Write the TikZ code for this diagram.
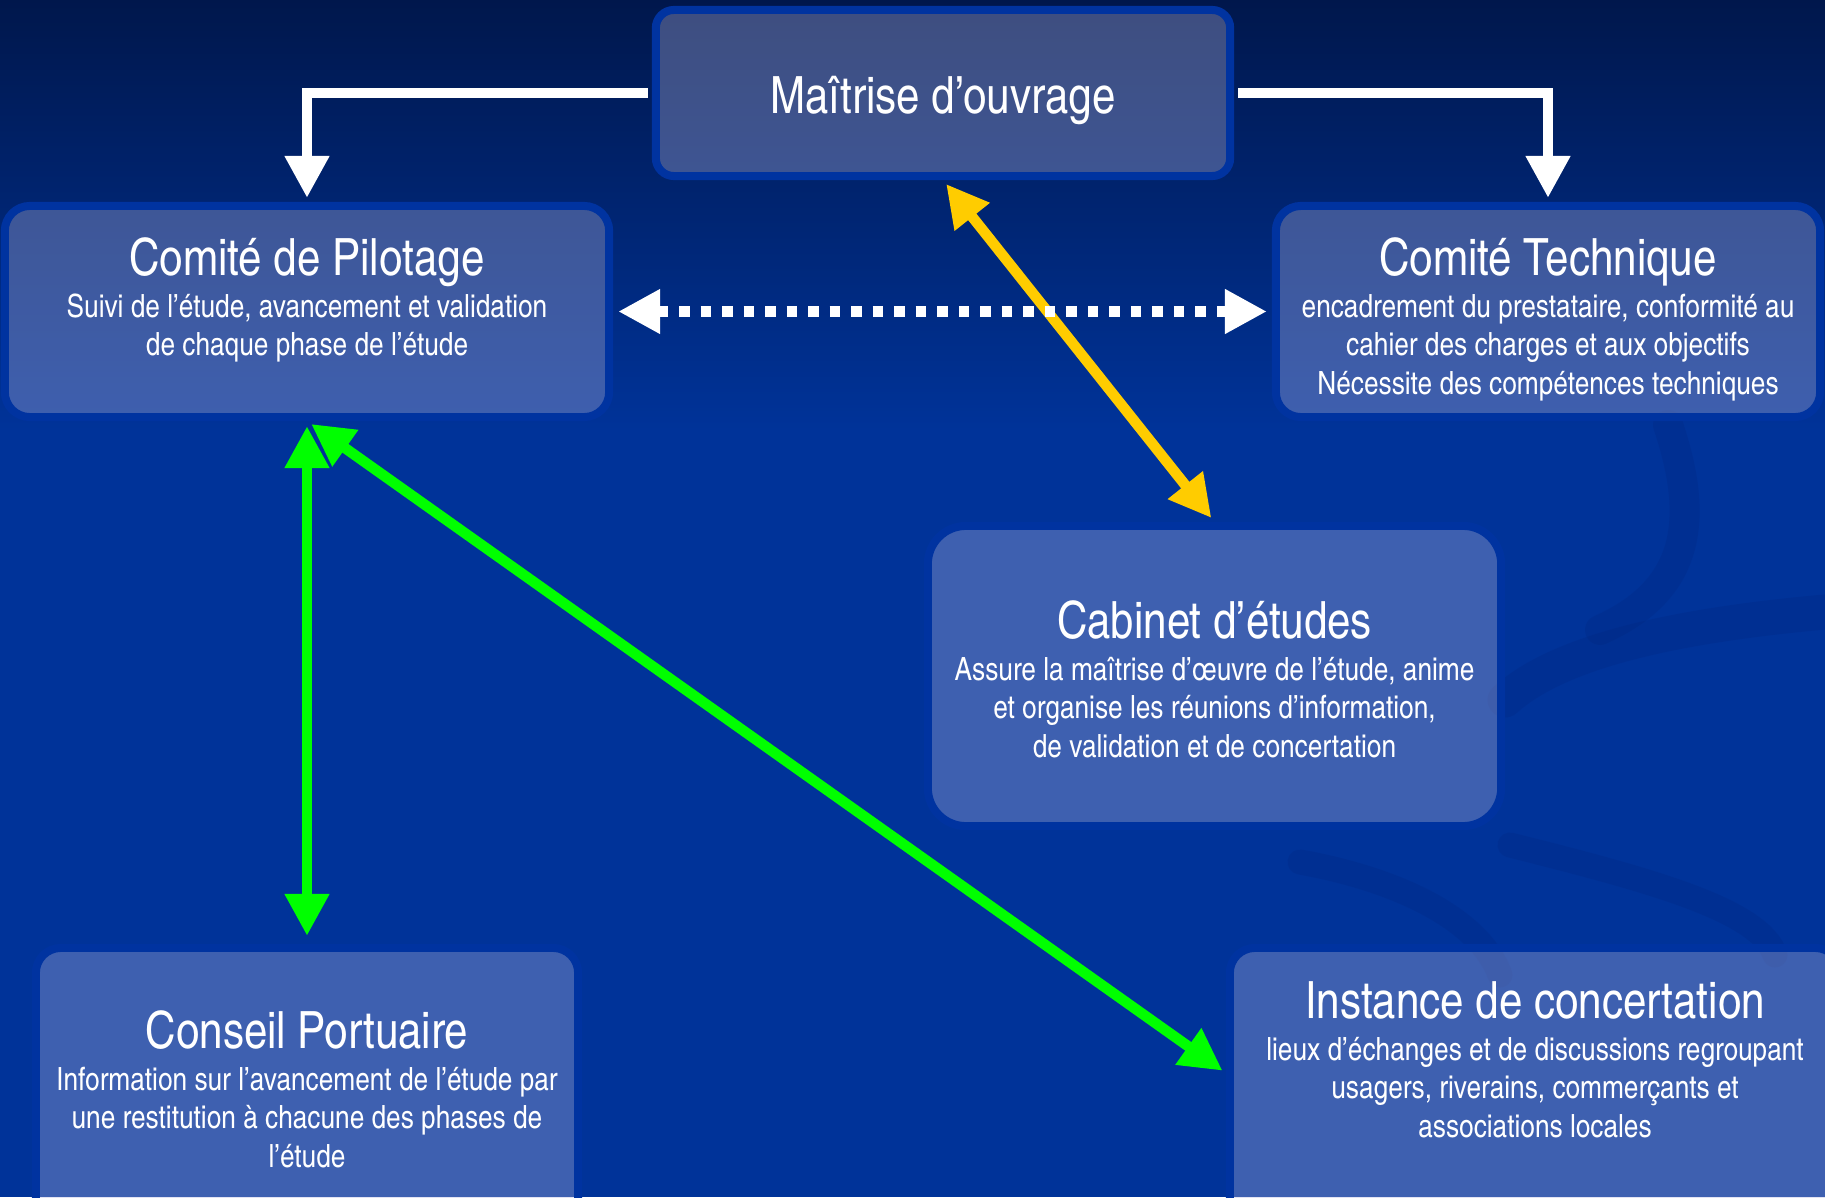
\documentclass[tikz,border=0pt]{standalone}
\usepackage{fontspec}
\setmainfont{texgyreheroscn}[Extension=.otf,UprightFont=*-regular,BoldFont=*-bold,ItalicFont=*-italic,BoldItalicFont=*-bolditalic]
\usetikzlibrary{arrows.meta}
\usetikzlibrary{positioning}

\definecolor{bgtop}{RGB}{0,23,76}
\definecolor{bgmid}{RGB}{0,51,153}
\definecolor{boxline}{RGB}{0,51,160}
\definecolor{boxfill}{RGB}{172,176,218}
\definecolor{flechejaune}{RGB}{255,204,0}
\definecolor{flecheverte}{RGB}{0,255,0}
\definecolor{volute}{RGB}{0,30,110}

\newcommand{\grandtitre}{\fontsize{14.6}{17.5}\selectfont}

\tikzset{
  box/.style={rectangle, rounded corners=0.25cm, draw=boxline, line width=0.08cm, fill=boxfill, fill opacity=0.36, text opacity=1, inner sep=0pt},
  desc/.style={align=center, text=white, inner sep=0pt, font=\fontsize{9.1}{10.93}\selectfont},
  link/.style={line width=0.105cm, -{Triangle[length=0.42cm,width=0.42cm]}, shorten >=0.05cm, shorten <=0.05cm},
  both/.style={link, {Triangle[length=0.42cm,width=0.42cm]}-{Triangle[length=0.42cm,width=0.42cm]}},
  swirl/.style={draw=volute, opacity=0.15, line cap=round}
}

\begin{document}
\begin{tikzpicture}[x=0.01cm,y=-0.01cm]
\useasboundingbox (0,0) rectangle (1825,1197);
\shade[top color=bgtop, bottom color=bgmid] (0,0) rectangle (1825,430);
\fill[bgmid] (0,430) rectangle (1825,1197);

% volutes du fond
\draw[swirl, line width=0.3cm] (1668,425) .. controls (1700,520) and (1690,590) .. (1600,630);
\draw[swirl, line width=0.35cm] (1505,700) .. controls (1560,650) and (1680,625) .. (1825,612);
\draw[swirl, line width=0.25cm] (1300,862) .. controls (1400,880) and (1480,920) .. (1500,975);
\draw[swirl, line width=0.25cm] (1510,845) .. controls (1650,880) and (1760,910) .. (1775,955);

% boites
\node[box, rounded corners=0.18cm, minimum width=5.74cm, minimum height=1.66cm, text=white, font=\grandtitre, text height=11.7pt, text depth=0pt] (mo) at (943,93) {Maîtrise d’ouvrage};
\node[box, minimum width=6.04cm, minimum height=2.11cm] (pil) at (307,311.5) {};
\node[box, minimum width=5.44cm, minimum height=2.11cm] (tech) at (1548,311.5) {};
\node[box, rounded corners=0.38cm, minimum width=5.73cm, minimum height=3cm] (cab) at (1214.5,676) {};
\node[box, minimum width=5.42cm, minimum height=2.82cm] (cons) at (307,1089) {};
\node[box, minimum width=6.1cm, minimum height=2.82cm] (inst) at (1535,1089) {};

% textes
\node[desc, anchor=north, below=0.35cm of pil.north] (pilT) {{\grandtitre Comité de Pilotage}\\[1pt]
Suivi de l’étude, avancement et validation\\
de chaque phase de l’étude};
\node[desc, anchor=north, below=0.35cm of tech.north] (techT) {{\grandtitre Comité Technique}\\[1pt]
encadrement du prestataire, conformité au\\
cahier des charges et aux objectifs\\
Nécessite des compétences techniques};
\node[desc, anchor=north, below=0.78cm of cab.north] (cabT) {{\grandtitre Cabinet d’études}\\[1pt]
Assure la maîtrise d’œuvre de l’étude, anime\\
et organise les réunions d’information,\\
de validation et de concertation};
\node[desc, anchor=north, below=0.66cm of cons.north] (consT) {{\grandtitre Conseil Portuaire}\\[1pt]
Information sur l’avancement de l’étude par\\
une restitution à chacune des phases de\\
l’étude};
\node[desc, anchor=north, below=0.37cm of inst.north] (instT) {{\grandtitre Instance de concertation}\\[1pt]
lieux d’échanges et de discussions regroupant\\
usagers, riverains, commerçants et\\
associations locales};

% liaisons
\draw[link, white, shorten <=0.04cm, shorten >=0.04cm] (mo.west) -| (pil.north);
\draw[link, white, shorten <=0.04cm, shorten >=0.04cm] (mo.east) -| (tech.north);
\draw[both, flechejaune] (mo.south) -- (cab.north);
\draw[both, white, dash pattern=on 0.105cm off 0.11cm] (pil.east) -- (tech.west);
\draw[both, flecheverte, shorten >=0.08cm] (pil.south) -- (cons.north);
\draw[both, flecheverte, shorten >=0.04cm] (pil.south) -- ([yshift=0.16cm]inst.west);

\end{tikzpicture}
\end{document}
